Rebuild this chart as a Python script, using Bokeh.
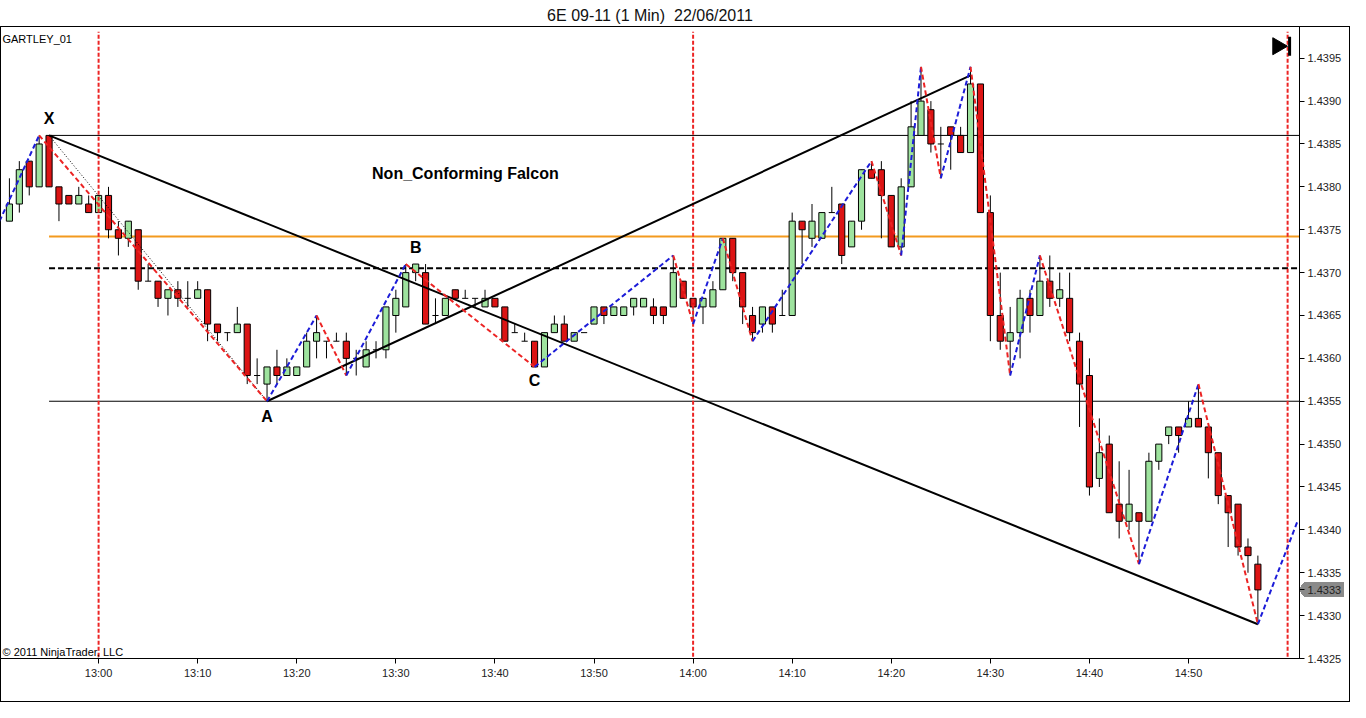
import numpy as np
import pandas as pd
from bokeh.plotting import figure
from bokeh.models import (Range1d, FixedTicker, DatetimeTickFormatter, PrintfTickFormatter,
                          Label, ColumnDataSource)
from bokeh.core.properties import value
from bokeh.embed import file_html
from bokeh.resources import INLINE

# ---------------- data ----------------
day = "2011-06-22"
first_bar = "12:51"   # 1-minute bars, consecutive

opens = [1.4376, 1.4378, 1.4383, 1.4380, 1.4386, 1.4380, 1.4379, 1.4378, 1.4378, 1.4377,
         1.4379, 1.4375, 1.4374, 1.4375, 1.4369, 1.4369, 1.4367, 1.4368, 1.4367, 1.4367,
         1.4368, 1.4364, 1.4363, 1.4363, 1.4364, 1.4358, 1.4357, 1.4359, 1.4358, 1.4358,
         1.4359, 1.4362, 1.4362, 1.4362, 1.4362, 1.4360, 1.4359, 1.4361, 1.4361, 1.4365,
         1.4366, 1.4370, 1.4370, 1.4365, 1.4365, 1.4368, 1.4367, 1.4367, 1.4366, 1.4367,
         1.4366, 1.4363, 1.4362, 1.4362, 1.4359, 1.4363, 1.4364, 1.4362, 1.4363, 1.4364,
         1.4366, 1.4365, 1.4365, 1.4366, 1.4366, 1.4366, 1.4366, 1.4366, 1.4369, 1.4367,
         1.4366, 1.4366, 1.4368, 1.4374, 1.4370, 1.4365, 1.4364, 1.4366, 1.4365, 1.4365,
         1.4376, 1.4374, 1.4374, 1.4377, 1.4378, 1.4373, 1.4376, 1.4382, 1.4382, 1.4379,
         1.4373, 1.4380, 1.4386, 1.4389, 1.4385, 1.4387, 1.4386, 1.4384, 1.4392, 1.4377,
         1.4365, 1.4362, 1.4363, 1.4367, 1.4365, 1.4369, 1.4367, 1.4367, 1.4362, 1.4358,
         1.4346, 1.4350, 1.4343, 1.4341, 1.4342, 1.4341, 1.4348, 1.4351, 1.4352, 1.4352,
         1.4353, 1.4352, 1.4349, 1.4344, 1.4343, 1.4338, 1.4336]
highs = [1.4381, 1.4383, 1.4383, 1.4386, 1.4386, 1.4380, 1.4379, 1.4380, 1.4379, 1.4379,
         1.4380, 1.4376, 1.4376, 1.4375, 1.4371, 1.4369, 1.4368, 1.4369, 1.4369, 1.4369,
         1.4368, 1.4364, 1.4363, 1.4366, 1.4364, 1.4360, 1.4359, 1.4361, 1.4360, 1.4359,
         1.4363, 1.4365, 1.4362, 1.4363, 1.4363, 1.4361, 1.4362, 1.4362, 1.4366, 1.4368,
         1.4371, 1.4371, 1.4371, 1.4367, 1.4367, 1.4368, 1.4368, 1.4367, 1.4368, 1.4367,
         1.4366, 1.4364, 1.4363, 1.4362, 1.4363, 1.4365, 1.4365, 1.4363, 1.4363, 1.4366,
         1.4366, 1.4366, 1.4366, 1.4367, 1.4367, 1.4367, 1.4366, 1.4372, 1.4369, 1.4367,
         1.4367, 1.4369, 1.4374, 1.4374, 1.4370, 1.4366, 1.4366, 1.4366, 1.4368, 1.4377,
         1.4376, 1.4378, 1.4377, 1.4380, 1.4378, 1.4376, 1.4382, 1.4383, 1.4383, 1.4379,
         1.4381, 1.4390, 1.4394, 1.4390, 1.4387, 1.4387, 1.4387, 1.4394, 1.4392, 1.4379,
         1.4370, 1.4366, 1.4368, 1.4368, 1.4372, 1.4372, 1.4370, 1.4370, 1.4363, 1.4360,
         1.4353, 1.4351, 1.4348, 1.4347, 1.4342, 1.4349, 1.4350, 1.4352, 1.4352, 1.4355,
         1.4357, 1.4352, 1.4349, 1.4344, 1.4343, 1.4339, 1.4337]
lows = [1.4376, 1.4377, 1.4379, 1.4380, 1.4380, 1.4376, 1.4378, 1.4378, 1.4377, 1.4377,
        1.4374, 1.4372, 1.4373, 1.4368, 1.4369, 1.4366, 1.4365, 1.4366, 1.4366, 1.4367,
        1.4362, 1.4362, 1.4362, 1.4363, 1.4357, 1.4357, 1.4355, 1.4357, 1.4358, 1.4358,
        1.4359, 1.4360, 1.4360, 1.4362, 1.4358, 1.4358, 1.4359, 1.4360, 1.4360, 1.4363,
        1.4366, 1.4369, 1.4364, 1.4364, 1.4365, 1.4367, 1.4367, 1.4366, 1.4366, 1.4366,
        1.4362, 1.4363, 1.4362, 1.4359, 1.4359, 1.4363, 1.4362, 1.4362, 1.4363, 1.4364,
        1.4364, 1.4365, 1.4365, 1.4365, 1.4366, 1.4364, 1.4364, 1.4366, 1.4367, 1.4364,
        1.4364, 1.4366, 1.4368, 1.4369, 1.4364, 1.4362, 1.4363, 1.4363, 1.4365, 1.4365,
        1.4371, 1.4373, 1.4374, 1.4377, 1.4371, 1.4373, 1.4375, 1.4381, 1.4374, 1.4373,
        1.4372, 1.4380, 1.4386, 1.4384, 1.4381, 1.4382, 1.4384, 1.4384, 1.4377, 1.4362,
        1.4361, 1.4358, 1.4360, 1.4363, 1.4365, 1.4366, 1.4366, 1.4362, 1.4352, 1.4344,
        1.4345, 1.4342, 1.4339, 1.4340, 1.4336, 1.4341, 1.4347, 1.4350, 1.4349, 1.4352,
        1.4352, 1.4346, 1.4343, 1.4338, 1.4337, 1.4335, 1.4329]
closes = [1.4378, 1.4382, 1.4380, 1.4385, 1.4380, 1.4378, 1.4378, 1.4379, 1.4377, 1.4379,
          1.4375, 1.4374, 1.4376, 1.4369, 1.4369, 1.4367, 1.4368, 1.4367, 1.4367, 1.4368,
          1.4364, 1.4363, 1.4363, 1.4364, 1.4358, 1.4358, 1.4359, 1.4358, 1.4359, 1.4359,
          1.4362, 1.4363, 1.4362, 1.4362, 1.4360, 1.4360, 1.4361, 1.4361, 1.4366, 1.4367,
          1.4370, 1.4371, 1.4364, 1.4365, 1.4367, 1.4367, 1.4367, 1.4367, 1.4367, 1.4366,
          1.4362, 1.4363, 1.4362, 1.4359, 1.4363, 1.4364, 1.4362, 1.4363, 1.4363, 1.4366,
          1.4365, 1.4366, 1.4366, 1.4367, 1.4367, 1.4365, 1.4365, 1.4370, 1.4367, 1.4366,
          1.4367, 1.4368, 1.4374, 1.4370, 1.4366, 1.4363, 1.4366, 1.4364, 1.4365, 1.4376,
          1.4375, 1.4376, 1.4377, 1.4377, 1.4372, 1.4376, 1.4382, 1.4381, 1.4379, 1.4373,
          1.4380, 1.4387, 1.4390, 1.4385, 1.4385, 1.4386, 1.4384, 1.4392, 1.4377, 1.4365,
          1.4362, 1.4363, 1.4367, 1.4365, 1.4369, 1.4367, 1.4368, 1.4363, 1.4357, 1.4345,
          1.4349, 1.4342, 1.4341, 1.4343, 1.4341, 1.4348, 1.4350, 1.4352, 1.4351, 1.4353,
          1.4352, 1.4349, 1.4344, 1.4342, 1.4338, 1.4337, 1.4333]

# zigzag swing points
zz_times = ["12:50", "12:54", "13:17", "13:22", "13:25", "13:31", "13:44", "13:58", "14:00",
            "14:03", "14:06", "14:18", "14:21", "14:23", "14:25", "14:28", "14:32", "14:35",
            "14:45", "14:51", "14:57", "15:01"]
zz_prices = [1.4376, 1.4386, 1.4355, 1.4365, 1.4358, 1.4371, 1.4359, 1.4372, 1.4364,
             1.4374, 1.4362, 1.4383, 1.4372, 1.4394, 1.4381, 1.4394, 1.4358, 1.4372,
             1.4336, 1.4357, 1.4329, 1.4341]

# pattern points
x_time, x_price = "12:55", 1.4386
a_time, a_price = "13:17", 1.4355
d_time, d_price = "14:57", 1.4329
top_time, top_price = "14:28", 1.4393

label_names = ["X", "A", "B", "C"]
label_times = ["12:55", "13:17", "13:32", "13:44"]
label_prices = [1.4386, 1.4355, 1.4371, 1.4359]

level_prices = [1.4386, 1.43742, 1.43705, 1.4355]   # X, 61.8%, 50%, A
hour_lines = ["13:00", "14:00", "15:00"]

x_tick_labels = ["13:00", "13:10", "13:20", "13:30", "13:40", "13:50",
                 "14:00", "14:10", "14:20", "14:30", "14:40", "14:50"]
y_ticks = [1.4325, 1.4330, 1.4335, 1.4340, 1.4345, 1.4350, 1.4355, 1.4360,
           1.4365, 1.4370, 1.4375, 1.4380, 1.4385, 1.4390, 1.4395]

title_text = "6E 09-11 (1 Min)\u00a0\u00a022/06/2011"
pattern_name = "Non_Conforming Falcon"
last_price = closes[-1]


def ms(hhmm):
    return pd.Timestamp(f"{day} {hhmm}").value / 1e6


MIN = 60_000.0
FONT = "Liberation Sans"
GREEN = "#9ee39e"
RED = "#dc1414"
ZZ_BLUE = "#1c1cd8"
ZZ_RED = "#ec2424"
MARKER_GREY = "#8a8a8a"
FRAME_W, FRAME_H = 1299, 632
TOP, BOTTOM, RIGHT = 26, 44, 51

times = pd.date_range(f"{day} {first_bar}", periods=len(opens), freq="min")
tms = np.array([t.value / 1e6 for t in times])
o = np.array(opens); h = np.array(highs); l = np.array(lows); c = np.array(closes)

# ---------------- figure ----------------
x_start, x_end = ms("12:50:06"), ms("15:01:12")
y_lo, y_hi = 1.4325, 1.43987
p = figure(frame_width=FRAME_W, frame_height=FRAME_H, output_backend="svg", toolbar_location=None,
           x_axis_type="datetime", y_axis_location="right",
           x_range=Range1d(x_start, x_end), y_range=Range1d(y_lo, y_hi),
           min_border_left=0, min_border_right=RIGHT, min_border_top=TOP, min_border_bottom=BOTTOM,
           background_fill_color="white", border_fill_color=None)
p.outline_line_color = "black"
p.outline_line_width = 1
p.xgrid.visible = False
p.ygrid.visible = False

# outer chart box (below the title) and the grey last-price tag, painted as CSS
# backgrounds behind the transparent border area; the tag's text is the axis label
tag_y = TOP + (y_hi - last_price) / (y_hi - y_lo) * FRAME_H
tag_top = round(tag_y - 7.5)
tag_left = FRAME_W + 5
g = lambda col: f"linear-gradient({col}, {col})"
p.styles = {
    "background-color": "white",
    "background-image": ", ".join([g("#000")] * 4 + [
        g(MARKER_GREY),
        f"linear-gradient(to bottom right, transparent 50%, {MARKER_GREY} 50%)",
        f"linear-gradient(to top right, transparent 50%, {MARKER_GREY} 50%)"]),
    "background-size": ", ".join([
        f"1px calc(100% - {TOP}px)", "100% 1px", "100% 1px", f"1px calc(100% - {TOP}px)",
        "40px 15px", "6px 8px", "6px 8px"]),
    "background-position": ", ".join([
        "right bottom", "left bottom", f"0px {TOP}px", "left bottom",
        f"{tag_left}px {tag_top}px", f"{tag_left - 6}px {tag_top}px",
        f"{tag_left - 6}px {tag_top + 7}px"]),
    "background-repeat": "no-repeat",
}

p.title.text = title_text
p.title.align = "center"
p.title.text_font = FONT
p.title.text_font_style = "normal"
p.title.text_font_size = "16px"
p.title.text_color = "#111111"
p.title.standoff = 6

# axes
p.xaxis.ticker = FixedTicker(ticks=[ms(t) for t in x_tick_labels], minor_ticks=[])
fmt = "%H:%M"
p.xaxis.formatter = DatetimeTickFormatter(seconds=fmt, minsec=fmt, minutes=fmt, hourmin=fmt,
                                          hours=fmt, days=fmt)
p.yaxis.ticker = FixedTicker(ticks=y_ticks + [last_price], minor_ticks=[])
p.yaxis.formatter = PrintfTickFormatter(format="%.4f")
for ax in (p.xaxis[0], p.yaxis[0]):
    ax.axis_line_color = "black"
    ax.major_tick_line_color = "black"
    ax.major_tick_out = 5
    ax.major_tick_in = 0
    ax.minor_tick_out = 0
    ax.minor_tick_in = 0
    ax.major_label_text_font = FONT
    ax.major_label_text_font_size = "11px"
    ax.major_label_text_color = "#222222"
p.xaxis.major_label_standoff = 3
p.yaxis.major_label_standoff = 3

# horizontal levels
lvl_styles = [("black", 1, "solid"), ("#f39a1e", 2, "solid"), ("black", 2, "6 3"), ("black", 1, "solid")]
for price, (col, w, dash) in zip(level_prices, lvl_styles):
    p.segment(x0=[ms(x_time)], y0=[price], x1=[x_end + 5 * MIN], y1=[price],
              line_color=col, line_width=w, line_dash=dash)

# candle wicks
p.segment(x0=tms, y0=h, x1=tms, y1=l, line_color="black", line_width=1)

# candle bodies
nondoji = o != c
body = ColumnDataSource(dict(
    x=tms[nondoji], top=np.maximum(o, c)[nondoji], bottom=np.minimum(o, c)[nondoji],
    color=[GREEN if cc > oo else RED for oo, cc in zip(o[nondoji], c[nondoji])]))
p.vbar(x="x", top="top", bottom="bottom", width=0.62 * MIN, source=body,
       fill_color="color", line_color="black", line_width=1)
doji = ~nondoji
p.segment(x0=tms[doji] - 0.31 * MIN, y0=o[doji], x1=tms[doji] + 0.31 * MIN, y1=o[doji],
          line_color="black", line_width=1)

# session hour separators
hx = [ms(t) for t in hour_lines]
p.segment(x0=hx, y0=[y_lo + 0.00002] * len(hx), x1=hx, y1=[y_hi - 0.00006] * len(hx),
          line_color=ZZ_RED, line_width=2, line_dash="4 2")

# harmonic pattern lines
p.segment(x0=[ms(x_time)], y0=[x_price], x1=[ms(a_time)], y1=[a_price],
          line_color="black", line_width=1, line_dash="1 2")
p.segment(x0=[ms(x_time), ms(a_time)], y0=[x_price, a_price],
          x1=[ms(d_time), ms(top_time)], y1=[d_price, top_price],
          line_color="black", line_width=2)

# zigzag
zx = [ms(t) for t in zz_times]
zz = ColumnDataSource(dict(
    x0=zx[:-1], y0=zz_prices[:-1], x1=zx[1:], y1=zz_prices[1:],
    color=[ZZ_BLUE if b > a else ZZ_RED for a, b in zip(zz_prices[:-1], zz_prices[1:])]))
p.segment(x0="x0", y0="y0", x1="x1", y1="y1", source=zz, line_color="color",
          line_width=2, line_dash="5 3")

# point labels
p.text(x=[ms(t) for t in label_times], y=label_prices, text=label_names,
       y_offset=[-17, 15, -17, 14], text_align="center", text_baseline="middle",
       text_font=value(FONT), text_font_style="bold", text_font_size="16px", text_color="black")

p.add_layout(Label(x=ms("13:27:36"), y=1.43815, text=pattern_name, text_font=FONT,
                   text_font_style="bold", text_font_size="16px", text_align="left",
                   text_baseline="middle", text_color="black"))
p.add_layout(Label(x=ms("12:50:18"), y=1.43973, text="GARTLEY_01", text_font=FONT,
                   text_font_size="11px", text_baseline="middle", text_color="black"))
p.add_layout(Label(x=ms("12:50:18"), y=1.43257, text="\u00a9 2011 NinjaTrader, LLC",
                   text_font=FONT, text_font_size="11px", text_baseline="middle",
                   text_color="black"))

# "go to end" icon
p.scatter(x=[ms("14:59:00")], y=[1.43964], marker="triangle", size=17, angle=-np.pi / 2,
          fill_color="black", line_color="black")
p.segment(x0=[ms("15:00:12")], y0=[1.43953], x1=[ms("15:00:12")], y1=[1.43975],
          line_color="black", line_width=3)

open("out.html", "w").write(file_html(p, INLINE))
